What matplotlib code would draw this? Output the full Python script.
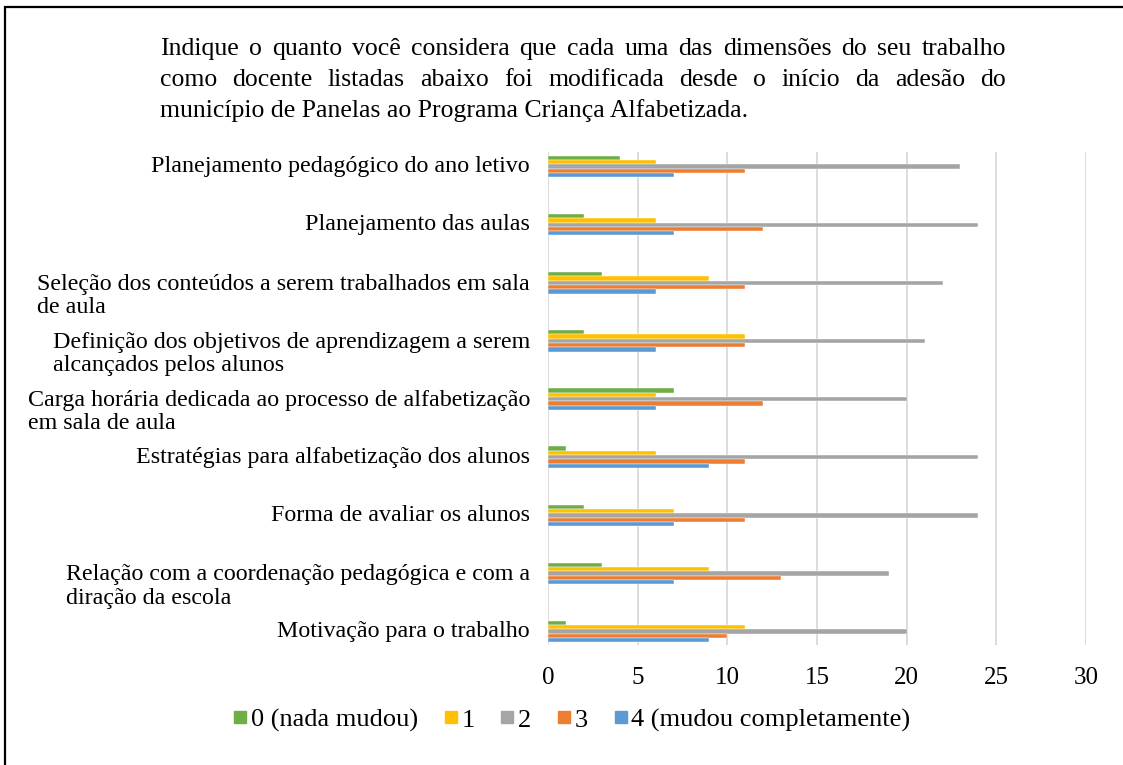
import numpy as np
import matplotlib
matplotlib.use("Agg")
import matplotlib.pyplot as plt
from matplotlib.patches import Rectangle
from matplotlib.lines import Line2D

plt.rcParams['font.family'] = ['Liberation Serif', 'DejaVu Serif']

# categories, top to bottom
categories = [
    "Planejamento pedagógico do ano letivo",
    "Planejamento das aulas",
    "Seleção dos conteúdos a serem trabalhados em sala\nde aula",
    "Definição dos objetivos de aprendizagem a serem\nalcançados pelos alunos",
    "Carga horária dedicada ao processo de alfabetização\nem sala de aula",
    "Estratégias para alfabetização dos alunos",
    "Forma de avaliar os alunos",
    "Relação com a coordenação pedagógica e com a\ndiração da escola",
    "Motivação para o trabalho",
]
series_names = ["0 (nada mudou)", "1", "2", "3", "4 (mudou completamente)"]
val_0 = [4, 2, 3, 2, 7, 1, 2, 3, 1]
val_1 = [6, 6, 9, 11, 6, 6, 7, 9, 11]
val_2 = [23, 24, 22, 21, 20, 24, 24, 19, 20]
val_3 = [11, 12, 11, 11, 12, 11, 11, 13, 10]
val_4 = [7, 7, 6, 6, 6, 9, 7, 7, 9]
series_colors = ["#70AD47", "#FFC000", "#A5A5A5", "#ED7D31", "#5B9BD5"]

title_lines = [
    "Indique o quanto você considera que cada uma das dimensões do seu trabalho",
    "como docente listadas abaixo foi modificada desde o início da adesão do",
    "município de Panelas ao Programa Criança Alfabetizada.",
]

W, H = 1123, 765
fig = plt.figure(figsize=(W / 100, H / 100), dpi=100)
ax = fig.add_axes([548 / W, 1 - 645 / H, (1086 - 548) / W, (645 - 152) / H])

y = np.arange(len(categories))
bar_h = 0.074
all_vals = [val_0, val_1, val_2, val_3, val_4]
for k, (vals, col, name) in enumerate(zip(all_vals, series_colors, series_names)):
    ax.barh(y + (k - 2) * bar_h, vals, height=bar_h, color=col,
            edgecolor='white', linewidth=0.3, label=name, zorder=3)

ax.set_xlim(0, 30)
ax.set_ylim(8.23, -0.25)
ax.set_xticks(range(0, 31, 5))
ax.xaxis.grid(True, color='#D9D9D9', linewidth=1.3, zorder=0)
ax.tick_params(axis='x', length=0, pad=16, labelsize=18)
ax.set_yticks([])
for s in ax.spines.values():
    s.set_visible(False)

for i, lab in enumerate(categories):
    n = lab.count("\n") + 1
    dy = -(n - 1) * 9.4
    ax.annotate(lab, xy=(0, i), xycoords=('axes fraction', 'data'),
                xytext=(-13, dy), textcoords='offset points',
                ha='right', va='center', multialignment='left',
                fontsize=17.3, linespacing=1.15)

# legend
handles = [Line2D([], [], marker='s', linestyle='', color=c, markersize=8)
           for c in series_colors]
fig.legend(handles, series_names, loc='center', ncol=5,
           bbox_to_anchor=(572 / W, 1 - 720 / H), frameon=False,
           fontsize=19, handlelength=0.5, handletextpad=0.15,
           columnspacing=1.0)

# question text, justified
fig.canvas.draw()
renderer = fig.canvas.get_renderer()
x_left, x_right = 160 / W, 1006 / W
line_y = [49, 80, 111]
for j, line in enumerate(title_lines):
    yy = 1 - line_y[j] / H
    if j == len(title_lines) - 1:
        fig.text(x_left, yy, line, ha='left', va='center', fontsize=18.5)
        continue
    words = line.split(" ")
    texts = [fig.text(0, yy, w_, ha='left', va='center', fontsize=18.5) for w_ in words]
    widths = [t.get_window_extent(renderer).width / W for t in texts]
    gap = (x_right - x_left - sum(widths)) / (len(words) - 1)
    xx = x_left
    for t, wd in zip(texts, widths):
        t.set_x(xx)
        xx += wd + gap

# border box
fig.patches.append(Rectangle((5 / W, -0.02), 1.1, 1 - 7 / H + 0.02,
                             transform=fig.transFigure, fill=False,
                             edgecolor='black', linewidth=1.6))

fig.savefig("out.png", dpi=100)
